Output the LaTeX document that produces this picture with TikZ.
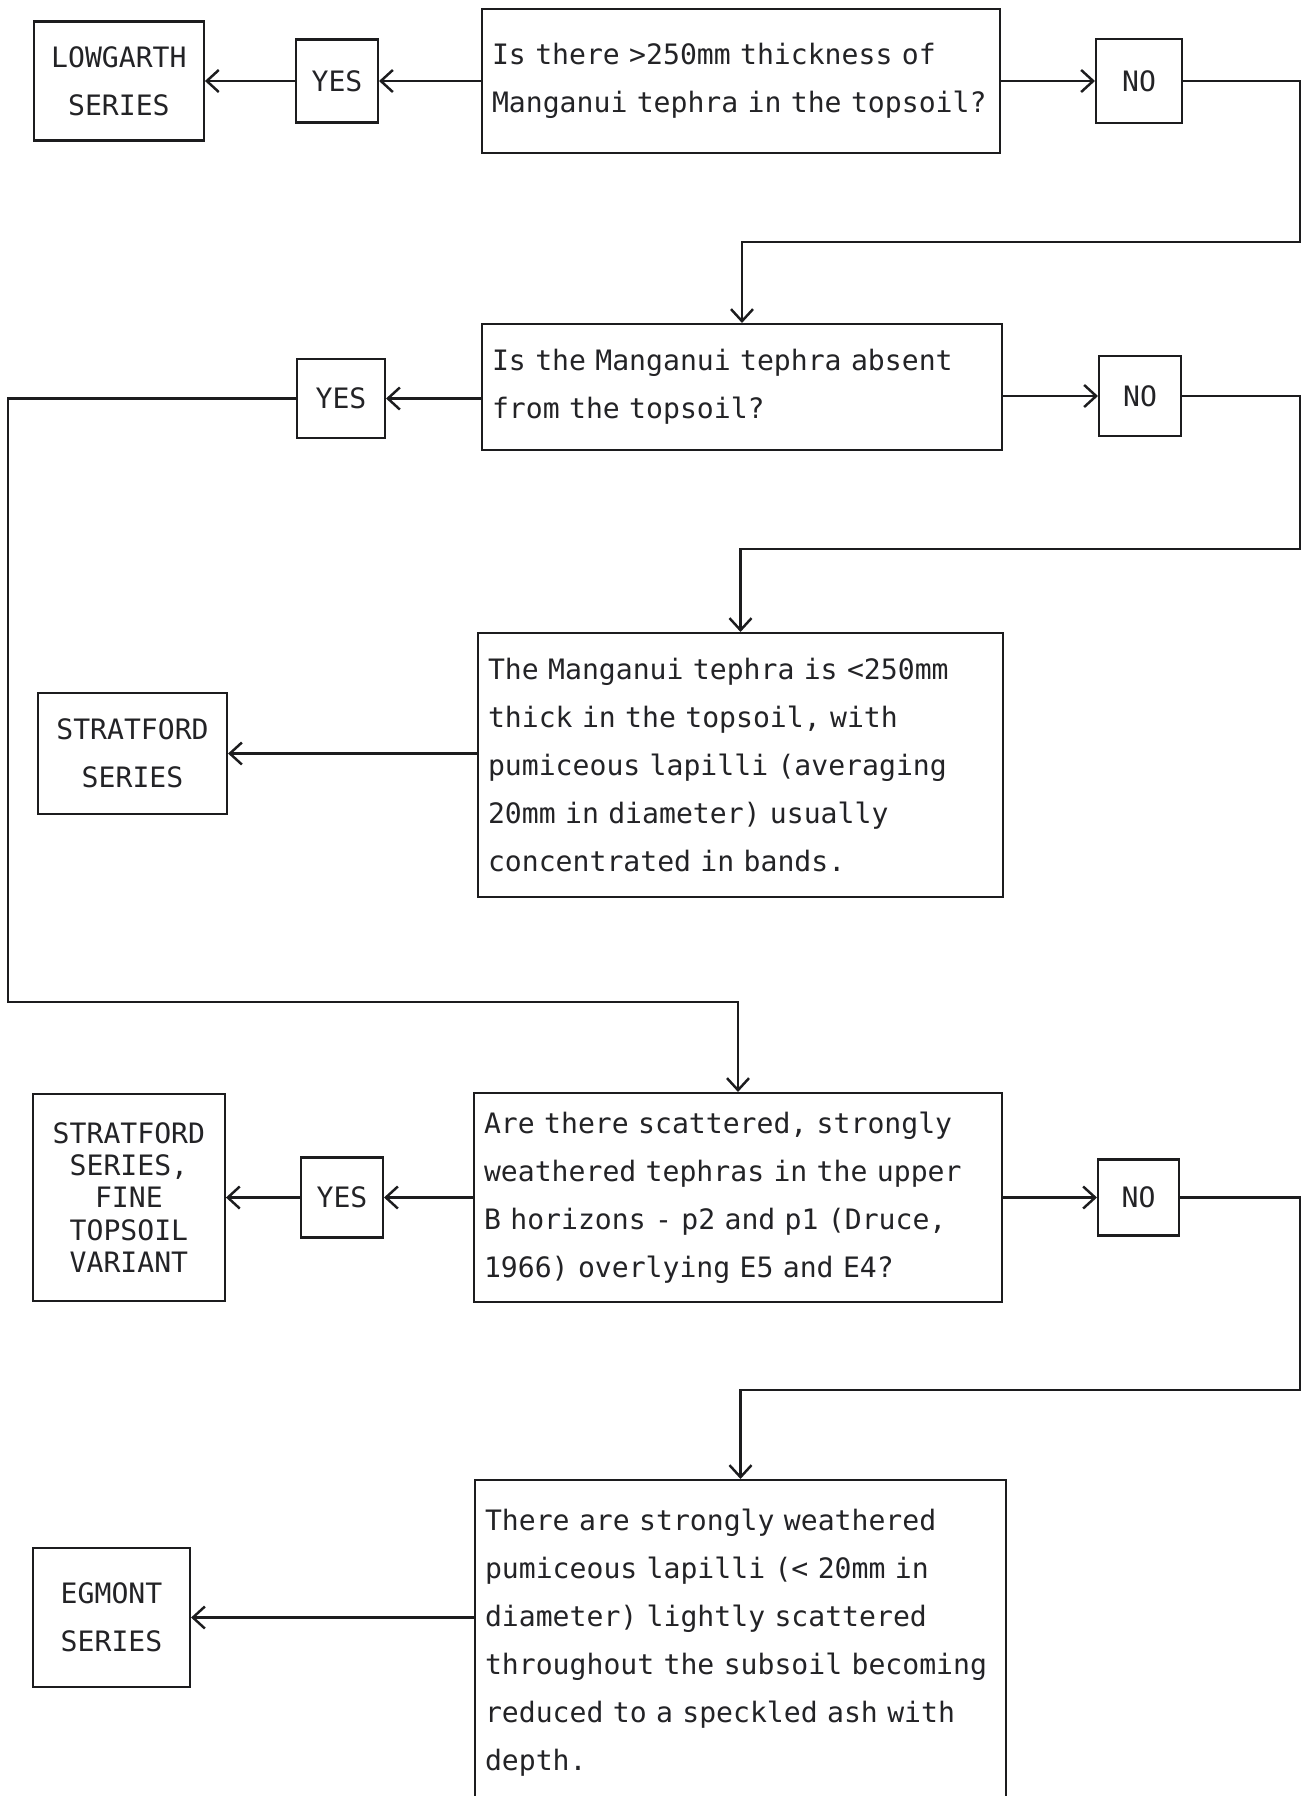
\documentclass[tikz,border=0pt]{standalone}
\usepackage{fontspec}
\newfontfamily\typefont{DejaVu Sans Mono}
\usetikzlibrary{arrows.meta,positioning}
\definecolor{inkLine}{RGB}{28,28,30}
\definecolor{inkText}{RGB}{35,35,38}
\tikzset{
  box/.style={draw=inkLine, line width=1.2pt, text=inkText, inner sep=0pt, font=\typefont\fontsize{16pt}{27.3pt}\selectfont},
  askbox/.style={box, align=left, inner xsep=0.2cm},
  answerbox/.style={box, align=center},
  seriesbox/.style={box, align=center},
  flow/.style={-{Straight Barb[length=2.4mm, width=4.4mm, line width=1.4pt]}, line width=1.6pt, draw=inkLine},
  loopflow/.style={flow, line width=1.2pt}
}
\begin{document}
\begin{tikzpicture}[x=0.02cm, y=-0.02cm]
        \useasboundingbox (0,0) rectangle (1309,1796);
        \node[askbox, text width=9.96cm, minimum height=2.88cm] (thick) at (741,81) {Is there >250mm thickness of\\Manganui tephra in the topsoil?};
        \node[answerbox, minimum width=1.64cm, minimum height=1.66cm, left=2.04cm of thick] (yes1) {YES};
        \node[seriesbox, minimum width=3.4cm, minimum height=2.38cm, left=1.8cm of yes1] (lowgarth) {LOWGARTH\\SERIES};
        \node[answerbox, minimum width=1.72cm, minimum height=1.68cm, right=1.88cm of thick] (no1) {NO};
        \coordinate (bend1) at (1300,242);
        \node[askbox, text width=10cm, minimum height=2.52cm] (absent) at (742,387) {Is the Manganui tephra absent\\from the topsoil?};
        \node[answerbox, minimum width=1.76cm, minimum height=1.58cm, left=1.9cm of absent, yshift=-0.23cm] (yes2) {YES};
        \node[answerbox, minimum width=1.64cm, minimum height=1.6cm, right=1.9cm of absent, yshift=-0.18cm] (no2) {NO};
        \coordinate (bend2) at (1300,549);
        \node[askbox, text width=10.1cm, minimum height=5.28cm] (thin) at (740.5,765) {The Manganui tephra is <250mm\\thick in the topsoil, with\\pumiceous lapilli (averaging\\20mm in diameter) usually\\concentrated in bands.};
        \node[seriesbox, minimum width=3.78cm, minimum height=2.42cm, left=4.98cm of thin, yshift=0.23cm] (stratford) {STRATFORD\\SERIES};
        \coordinate (loop1) at (8,1002);
        \node[askbox, text width=10.16cm, minimum height=4.18cm] (scattered) at (738,1197.5) {Are there scattered, strongly\\weathered tephras in the upper\\B horizons - p2 and p1 (Druce,\\1966) overlying E5 and E4?};
        \node[answerbox, minimum width=1.64cm, minimum height=1.6cm, left=1.78cm of scattered] (yes3) {YES};
        \node[seriesbox, font=\typefont\fontsize{16pt}{18.3pt}\selectfont, minimum width=3.84cm, minimum height=4.14cm, left=1.48cm of yes3] (fine) {STRATFORD\\SERIES,\\FINE\\TOPSOIL\\VARIANT};
        \node[answerbox, minimum width=1.62cm, minimum height=1.52cm, right=1.88cm of scattered] (no3) {NO};
        \coordinate (bend3) at (1300,1390);
        \node[askbox, text width=10.22cm, minimum height=6.5cm] (lapilli) at (740.5,1642.5) {There are strongly weathered\\pumiceous lapilli (< 20mm in\\diameter) lightly scattered\\throughout the subsoil becoming\\reduced to a speckled ash with\\depth.};
        \node[seriesbox, minimum width=3.14cm, minimum height=2.78cm, left=5.66cm of lapilli, yshift=0.5cm] (egmont) {EGMONT\\SERIES};
        \draw[flow] (thick) -- (yes1);
        \draw[flow] (yes1) -- (lowgarth);
        \draw[flow] (thick) -- (no1);
        \draw[flow] (no1.east) -| (bend1) -| (absent.north);
        \draw[flow] (yes2.east -| absent.west) -- (yes2.east);
        \draw[loopflow] (yes2.west) -| (loop1) -| (scattered.north);
        \draw[flow] (no2.west -| absent.east) -- (no2.west);
        \draw[flow] (no2.east) -| (bend2) -| (thin.north);
        \draw[flow] (stratford.east -| thin.west) -- (stratford.east);
        \draw[flow] (scattered) -- (yes3);
        \draw[flow] (yes3) -- (fine);
        \draw[flow] (scattered) -- (no3);
        \draw[flow] (no3.east) -| (bend3) -| (lapilli.north);
        \draw[flow] (egmont.east -| lapilli.west) -- (egmont.east);
      \end{tikzpicture}
\end{document}
